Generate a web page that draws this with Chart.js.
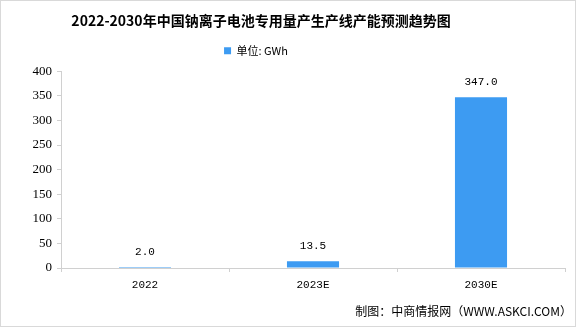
<!DOCTYPE html>
<html>
<head>
<meta charset="utf-8">
<script src="https://cdn.jsdelivr.net/npm/chart.js@4.4.1/dist/chart.umd.min.js"></script>
<style>
  html, body { margin: 0; padding: 0; background: #ffffff; }
  #frame { position: absolute; left: 0; top: 0; width: 574px; height: 325px; border: 1px solid #d9d9d9; background: #fff; }
  canvas { display: block; }
</style>
</head>
<body>
<div id="frame"><canvas id="chart" width="574" height="325"></canvas></div>
<script>
// Sodium-ion battery dedicated mass-production line capacity (GWh)
const categories = ['2022', '2023E', '2030E'];
const capacityGWh = [2.0, 13.5, 347.0];
const seriesName = '单位: GWh';
const yTickValues = [0, 50, 100, 150, 200, 250, 300, 350, 400];
const chartTitle = '2022-2030年中国钠离子电池专用量产生产线产能预测趋势图';
const sourceNote = '制图：中商情报网（WWW.ASKCI.COM）';

const CJK = "'Noto Sans CJK SC', 'Noto Sans', sans-serif";
const MONO = "'Liberation Mono', 'DejaVu Sans Mono', monospace";
const SERIF = "'Liberation Serif', 'DejaVu Serif', serif";
const AXIS_GREY = '#d0d0d0';
const BAR_BLUE = '#3d9bf2';
const HEADER_CENTER = 260;

// Title and legend are centred on a point left of the canvas centre
const headerPlacement = {
  id: 'headerPlacement',
  afterLayout(chart) {
    const t = chart.titleBlock;
    if (t) { t.left = 0; t.right = HEADER_CENTER * 2; t.width = t.right; }
    const l = chart.legend;
    if (l) {
      const pad = l.options.labels.padding;
      l.left = 0; l.right = HEADER_CENTER * 2 - pad; l.width = l.right;
      l.top -= 5; l.bottom -= 5;
    }
  }
};

// Value labels above each bar, plus the source note
const valueLabels = {
  id: 'valueLabels',
  afterDatasetsDraw(chart) {
    const ctx = chart.ctx;
    const meta = chart.getDatasetMeta(0);
    const data = chart.data.datasets[0].data;
    ctx.save();
    ctx.font = '11px ' + MONO;
    ctx.fillStyle = '#000';
    ctx.textAlign = 'center';
    ctx.textBaseline = 'middle';
    meta.data.forEach((bar, i) => {
      ctx.fillText(Number(data[i]).toFixed(1), bar.x, bar.y - 15);
    });
    ctx.font = '12px ' + CJK;
    ctx.textAlign = 'right';
    ctx.fillText(sourceNote, chart.width - 3, 310);
    ctx.restore();
  }
};

new Chart(document.getElementById('chart'), {
  type: 'bar',
  data: {
    labels: categories,
    datasets: [{
      label: seriesName,
      data: capacityGWh,
      backgroundColor: BAR_BLUE,
      borderWidth: 0,
      categoryPercentage: 1,
      barPercentage: 0.31
    }]
  },
  options: {
    responsive: false,
    animation: false,
    devicePixelRatio: 1,
    layout: { padding: { left: 0, right: 10, top: 0, bottom: 28 } },
    plugins: {
      title: {
        display: true,
        text: chartTitle,
        color: '#000',
        font: { family: CJK, size: 14, weight: 'bold', lineHeight: 1.3 },
        padding: { top: 11, bottom: 10 }
      },
      legend: {
        display: true,
        labels: {
          boxWidth: 7,
          boxHeight: 7,
          padding: 10,
          color: '#000',
          font: { family: CJK, size: 11 }
        }
      },
      tooltip: { enabled: false }
    },
    scales: {
      x: {
        afterFit(scale) { scale.height = 30; },
        grid: {
          display: true,
          offset: true,
          drawOnChartArea: false,
          drawTicks: true,
          tickLength: 4,
          color: AXIS_GREY
        },
        border: { display: true, color: AXIS_GREY },
        ticks: { color: '#000', padding: 6, font: { family: MONO, size: 11 } }
      },
      y: {
        min: 0,
        max: 400,
        afterFit(scale) { scale.width = 60; },
        afterBuildTicks(scale) { scale.ticks = yTickValues.map(v => ({ value: v })); },
        grid: {
          display: true,
          drawOnChartArea: false,
          drawTicks: true,
          tickLength: 4,
          color: AXIS_GREY
        },
        border: { display: true, color: AXIS_GREY },
        ticks: { color: '#000', padding: 5, font: { family: SERIF, size: 13 } }
      }
    }
  },
  plugins: [headerPlacement, valueLabels]
});
</script>
</body>
</html>
